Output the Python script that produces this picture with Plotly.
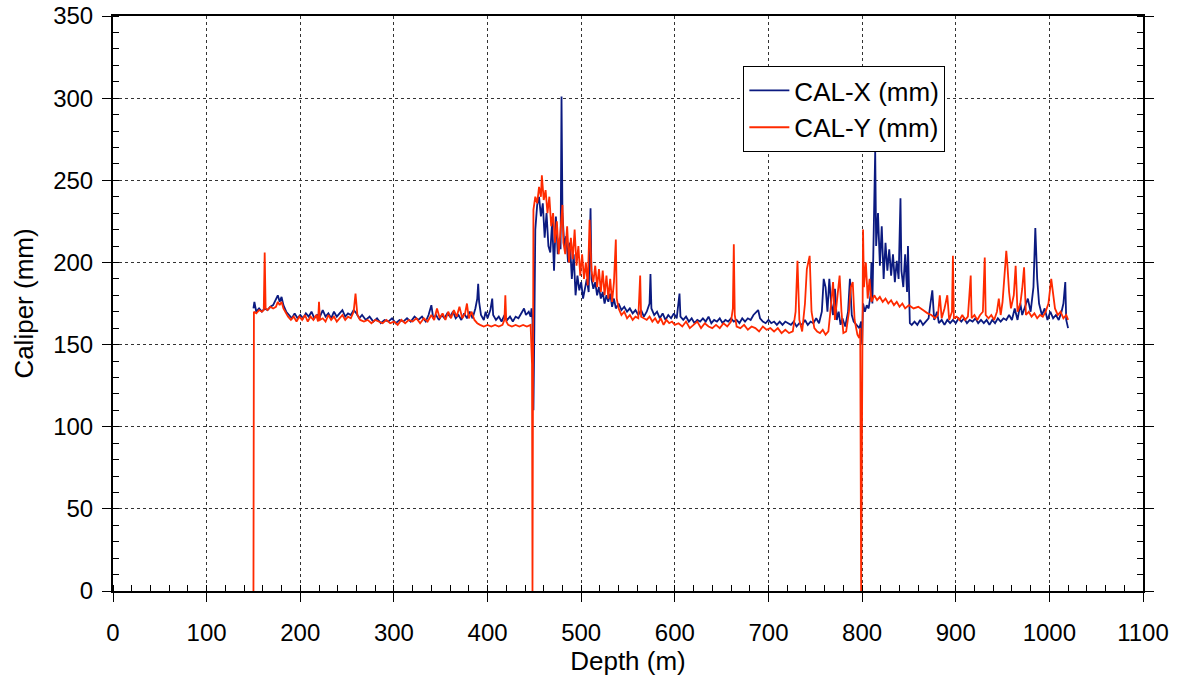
import plotly.graph_objects as go

# ---------------- data ----------------
depth_x = [
    150, 151, 153, 156, 159, 162, 165, 168, 171, 174, 176, 178, 180, 182, 185, 188, 191, 194, 197,
    200, 203, 206, 209, 212, 215, 218, 221, 224, 227, 230, 233, 236, 239, 242, 245, 248, 251, 254,
    257, 260, 263, 266, 270, 274, 278, 282, 286, 290, 294, 298, 302, 306, 310, 314, 318, 322, 326,
    330, 334, 337, 340, 342, 345, 348, 351, 354, 357, 360, 363, 366, 369, 372, 375, 378, 381, 384,
    387, 389, 390, 391, 393, 396, 398, 400, 403, 405, 406, 409, 412, 415, 418, 421, 424, 427, 430,
    433, 436, 439, 441, 444, 446, 447, 448, 449, 450, 451, 453, 455, 457, 459, 461, 463, 465, 467,
    469, 471, 473, 475, 477, 478, 479, 480, 482, 484, 486, 488, 490, 492, 494, 496, 498, 500, 502,
    504, 506, 508, 510, 511, 513, 515, 517, 519, 521, 523, 525, 527, 529, 531, 533, 535, 537, 540,
    543, 546, 549, 552, 555, 558, 561, 564, 567, 570, 573, 574, 575, 578, 581, 584, 587, 590, 593,
    596, 599, 602, 605, 606, 609, 612, 615, 618, 621, 624, 627, 630, 633, 636, 639, 642, 645, 648,
    651, 654, 657, 660, 663, 666, 669, 672, 675, 678, 681, 684, 687, 689, 691, 694, 697, 700, 703,
    706, 709, 712, 715, 718, 721, 724, 727, 730, 733, 736, 739, 742, 745, 748, 751, 754, 757, 759,
    761, 763, 765, 767, 769, 771, 773, 775, 777, 779, 782, 785, 787, 789, 791, 794, 797, 799, 800,
    801, 803, 805, 807, 809, 810, 811, 813, 814, 815, 817, 819, 821, 823, 825, 827, 829, 831, 833,
    835, 837, 839, 841, 842, 844, 846, 848, 849, 850, 851, 853, 856, 859, 862, 865, 868, 871, 873,
    875, 877, 880, 882, 885, 888, 891, 894, 897, 900, 903, 906, 909, 912, 915, 918, 921, 924, 927,
    930, 933, 936, 939, 942, 945, 948, 951, 954, 957, 960, 963, 966, 969, 971, 974, 977, 980, 983,
    985, 987, 989, 992, 995, 998, 1001, 1004, 1007, 1010, 1013, 1015, 1017, 1018, 1020,
]
cal_x = [
    172, 176, 170, 172, 170, 172, 171, 173, 174, 178, 180, 176, 179, 174, 170, 168, 166, 169, 166,
    168, 166, 169, 167, 170, 166, 168, 167, 171, 167, 169, 166, 170, 167, 169, 171, 167, 169, 168,
    171, 169, 166, 168, 165, 167, 164, 166, 163, 165, 164, 166, 163, 165, 164, 166, 164, 167, 165,
    167, 164, 168, 174, 166, 168, 165, 168, 166, 169, 167, 170, 166, 168, 165, 169, 166, 170, 166,
    172, 178, 187, 176, 168, 165, 170, 166, 171, 178, 168, 165, 167, 164, 168, 165, 167, 164, 167,
    166, 169, 172, 168, 170, 167, 172, 165, 110, 160, 220, 235, 240, 228, 236, 215, 230, 210, 206,
    225, 195, 228, 205, 215, 208, 301, 230, 210, 216, 200, 212, 190, 205, 180, 192, 183, 188, 178,
    185, 190, 182, 233, 190, 184, 188, 180, 185, 178, 182, 175, 180, 176, 181, 173, 178, 172, 175,
    171, 173, 170, 172, 169, 171, 168, 171, 167, 170, 175, 193, 172, 168, 170, 166, 169, 165, 168,
    166, 169, 166, 181, 167, 165, 167, 164, 166, 163, 165, 164, 166, 164, 167, 163, 165, 164, 166,
    163, 165, 164, 166, 164, 165, 163, 166, 164, 166, 165, 168, 170, 171, 166, 164, 163, 165, 163,
    164, 162, 164, 162, 164, 163, 162, 164, 161, 163, 162, 165, 162, 164, 163, 166, 163, 170, 190,
    185, 170, 190, 175, 168, 184, 165, 170, 162, 166, 161, 170, 190, 168, 164, 162, 160, 164, 150,
    175, 170, 174, 172, 180, 200, 175, 240, 268, 210, 230, 198, 222, 190, 212, 195, 208, 192, 205,
    188, 201, 190, 239, 195, 185, 205, 182, 210, 175, 163, 162, 164, 162, 165, 162, 164, 166, 175,
    183, 165, 170, 163, 165, 162, 165, 163, 165, 163, 166, 164, 166, 163, 165, 164, 166, 163, 165,
    163, 165, 162, 165, 163, 166, 164, 166, 165, 168, 165, 172, 165, 175, 168, 173, 178, 170, 185,
    221, 190, 175, 168, 172, 165, 170, 166, 168, 165, 170, 175, 188, 165, 160,
]

depth_y = [
    150, 150.5, 153, 156, 159, 161, 162, 163, 165, 168, 171, 174, 176, 178, 180, 182, 184, 187, 190,
    193, 196, 199, 202, 205, 208, 211, 214, 217, 219, 220, 221, 224, 227, 230, 233, 236, 239, 242,
    245, 248, 251, 254, 257, 259, 261, 264, 268, 272, 276, 280, 284, 288, 292, 296, 300, 304, 308,
    312, 316, 320, 324, 328, 332, 336, 340, 343, 346, 349, 352, 355, 358, 361, 364, 367, 370, 373,
    376, 378, 380, 383, 386, 389, 392, 396, 400, 404, 408, 412, 416, 418, 419, 420, 422, 426, 430,
    434, 438, 442, 446, 447.5, 448, 448.5, 449, 451, 453, 455, 457, 458, 460, 462, 464, 466, 468,
    470, 472, 474, 476, 478, 480, 481, 483, 485, 487, 489, 491, 493, 495, 497, 499, 501, 503, 505,
    507, 509, 511, 513, 515, 517, 519, 521, 523, 525, 527, 529, 531, 533, 535, 537, 538, 540, 543,
    546, 549, 552, 555, 558, 561, 563, 564, 567, 570, 573, 576, 579, 582, 585, 588, 591, 594, 597,
    600, 604, 608, 612, 616, 620, 624, 628, 632, 636, 640, 644, 648, 652, 656, 660, 662, 663, 664,
    666, 670, 674, 678, 682, 686, 690, 694, 698, 702, 706, 710, 714, 718, 722, 726, 729, 731, 733,
    736, 739, 741, 744, 746, 749, 752, 755, 758, 761, 764, 767, 769, 771, 774, 776, 778, 780, 783,
    786, 788, 790, 792, 795, 797, 798, 799, 800.5, 801, 802, 804, 806, 808, 810, 813, 816, 819, 822,
    825, 828, 831, 834, 837, 840, 843, 846, 850, 855, 860, 865, 870, 874, 878, 881, 883, 885, 888,
    891, 893, 896, 897, 898, 901, 904, 907, 910, 913, 916, 917, 920, 923, 926, 929, 931, 932, 935,
    938, 941, 944, 946, 948, 950, 952, 954, 955, 957, 959, 962, 964, 966, 969, 971, 973, 975, 978,
    981, 984, 987, 990, 993, 996, 999, 1002, 1004, 1006, 1009, 1012, 1015, 1018, 1020,
]
cal_y = [
    0, 170, 169, 171, 170, 171, 206, 172, 171, 173, 172, 173, 176, 174, 176, 172, 170, 167, 165,
    167, 164, 167, 165, 168, 164, 167, 165, 168, 164, 176, 165, 166, 164, 168, 165, 167, 164, 166,
    168, 165, 167, 166, 170, 181, 168, 165, 164, 165, 163, 165, 164, 163, 165, 163, 164, 162, 165,
    163, 165, 164, 166, 163, 166, 164, 168, 165, 172, 166, 169, 165, 170, 166, 171, 167, 173, 166,
    169, 175, 166, 170, 165, 163, 162, 161, 162, 161, 162, 161, 162, 165, 180, 164, 162, 161, 162,
    161, 162, 161, 162, 138, 0, 170, 232, 240, 236, 246, 240, 253, 238, 244, 230, 240, 222,
    230, 212, 225, 205, 220, 235, 212, 205, 222, 200, 215, 202, 220, 198, 210, 192, 205, 190, 200,
    186, 226, 195, 188, 198, 185, 196, 182, 195, 180, 192, 178, 190, 176, 188, 214, 178, 172, 168,
    170, 166, 168, 165, 167, 166, 192, 167, 166, 165, 167, 164, 166, 163, 166, 162, 165, 163, 164,
    162, 163, 161, 164, 160, 162, 164, 160, 163, 161, 160, 162, 160, 163, 161, 164, 172, 211, 168,
    161, 160, 162, 159, 161, 160, 158, 161, 159, 160, 158, 160, 157, 159, 157, 158, 170, 201, 165,
    158, 175, 196, 204, 170, 160, 158, 157, 159, 156, 158, 175, 188, 165, 182, 192, 170, 157, 158,
    170, 185, 188, 165, 156, 154, 160, 0, 150, 220, 185, 200, 178, 190, 176, 180, 177, 179, 176,
    178, 175, 177, 174, 176, 173, 175, 172, 174, 172, 173, 171, 169, 168, 166, 168, 180, 166, 172,
    180, 165, 170, 204, 166, 167, 165, 168, 165, 167, 192, 166, 168, 165, 168, 170, 203, 168, 166,
    168, 165, 170, 178, 168, 176, 190, 207, 200, 182, 172, 180, 198, 170, 175, 184, 197, 168, 170,
    167, 169, 166, 168, 167, 170, 175, 190, 180, 172, 168, 170, 166, 168, 165,
]

x_ticks = [0, 100, 200, 300, 400, 500, 600, 700, 800, 900, 1000, 1100]
y_ticks = [0, 50, 100, 150, 200, 250, 300, 350]

FONT = "Liberation Sans, Arial, sans-serif"
TICK_SIZE = 24
TITLE_SIZE = 26

fig = go.Figure()
fig.add_trace(go.Scatter(x=depth_x, y=cal_x, mode="lines", name="CAL-X (mm)",
                         line=dict(color="#0b1a80", width=1.8)))
fig.add_trace(go.Scatter(x=depth_y, y=cal_y, mode="lines", name="CAL-Y (mm)",
                         line=dict(color="#ff2a00", width=1.8)))

axis_common = dict(
    showline=True, linecolor="black", linewidth=2, automargin=False,
    showgrid=True, gridcolor="#333333", gridwidth=1, griddash="3px,3px",
    zeroline=False, ticks="outside", ticklen=9, tickwidth=1, tickcolor="black",
    tickfont=dict(family=FONT, size=TICK_SIZE, color="black"),
)

fig.update_xaxes(
    range=[0, 1100], tickvals=x_ticks, mirror=True,
    minor=dict(ticks="inside", dtick=20, tick0=0, ticklen=6, tickcolor="black", showgrid=False),
    title=dict(text="Depth (m)", font=dict(family=FONT, size=TITLE_SIZE, color="black"), standoff=4),
    ticklabelstandoff=10,
    **axis_common,
)
fig.update_yaxes(
    range=[0, 350], tickvals=y_ticks, mirror="allticks",
    minor=dict(ticks="inside", dtick=10, tick0=0, ticklen=6, tickcolor="black", showgrid=False),
    title=dict(text="Caliper (mm)", font=dict(family=FONT, size=TITLE_SIZE, color="black"), standoff=12),
    ticklabelstandoff=4,
    **axis_common,
)

fig.update_layout(
    width=1182, height=679,
    margin=dict(l=113, r=39, t=16, b=88),
    paper_bgcolor="white", plot_bgcolor="white",
    font=dict(family=FONT, size=TITLE_SIZE, color="black"),
    legend=dict(
        x=0.612, y=0.913, xanchor="left", yanchor="top",
        bgcolor="white", bordercolor="black", borderwidth=1,
        font=dict(family=FONT, size=TITLE_SIZE, color="black"),
        itemwidth=40, tracegroupgap=0,
    ),
    showlegend=True,
)

fig.write_html("out.html")
